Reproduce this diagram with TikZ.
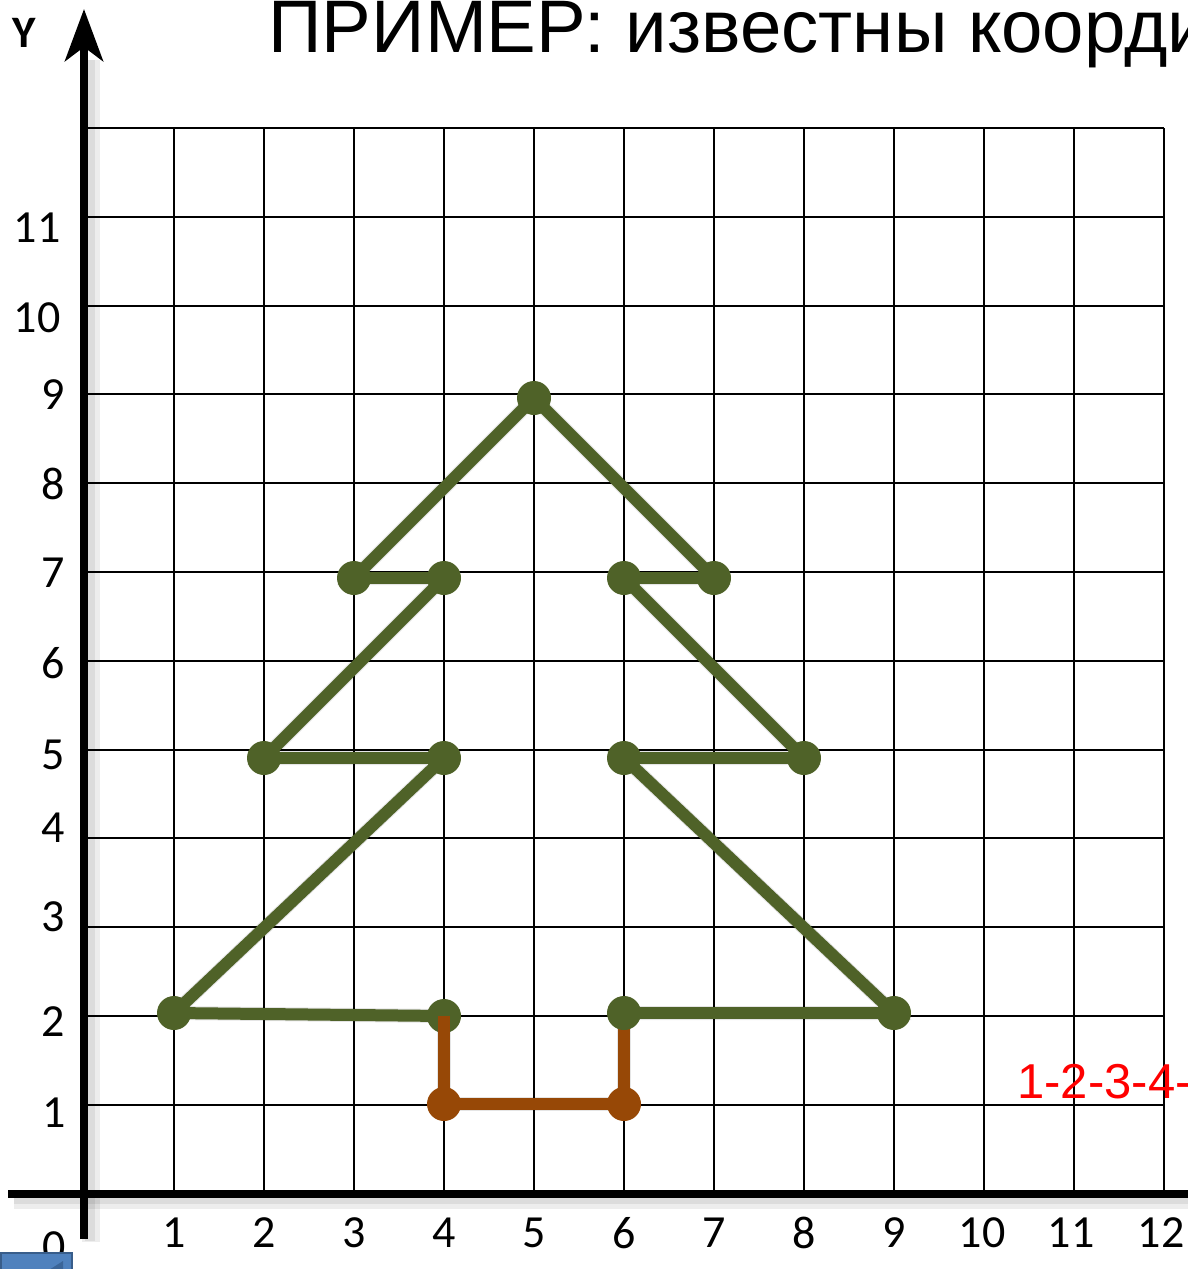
\documentclass[tikz,border=0pt]{standalone}
\usepackage{fontspec}
\setmainfont{Liberation Sans}
\newfontfamily\calfont{Carlito}
\usetikzlibrary{arrows.meta}
\definecolor{tgreen}{HTML}{4F6228}
\definecolor{tbrown}{HTML}{974806}
\definecolor{boxblue}{HTML}{4F81BD}
\definecolor{boxedge}{HTML}{385D8A}
\definecolor{boxdark}{HTML}{3B6598}
\definecolor{labred}{HTML}{FF0000}
\begin{document}
\begin{tikzpicture}[x=0.5pt,y=-0.5pt,
  gridline/.style={draw=black,line width=1.4pt},
  axisline/.style={draw=black,line width=4pt},
  axisshadow/.style={draw=black,line width=9pt,opacity=0.07},
  gline/.style={draw=tgreen,line width=6pt},
  bline/.style={draw=tbrown,line width=6pt},
  lshadow/.style={draw=black,line width=7pt,opacity=0.10},
  gdot/.style={circle,fill=tgreen,minimum size=17pt,inner sep=0pt},
  bdot/.style={circle,fill=tbrown,minimum size=17pt,inner sep=0pt},
  numlab/.style={font=\calfont\fontsize{23pt}{27pt}\selectfont,inner sep=0pt},
  titlelab/.style={font=\fontsize{37.2pt}{41pt}\selectfont,inner sep=0pt,anchor=base west},
  redlab/.style={font=\fontsize{24.5pt}{28pt}\selectfont,text=labred,inner sep=0pt,anchor=base west}
]
\useasboundingbox (0,0) rectangle (1188,1269);
\clip (0,0) rectangle (1188,1269);

% grid
\foreach \k in {1,...,12} \draw[gridline] (84+90*\k,128) -- (84+90*\k,1193);
\foreach \yy in {128,217,306,394,483,572,661,750,838,927,1016,1105}
  \draw[gridline] (84,\yy) -- (1164,\yy);

% title and red text
\node[titlelab] (title) at (268,53) {ПРИМЕР: известны коорди};
\node[redlab] (seq) at (1017,1098) {1-2-3-4-};

% axes shadows
\draw[axisshadow] (14,1200) -- (1200,1200);
\draw[axisshadow] (91,1242) -- (91,60);
\draw[axisshadow,line width=5pt] (14,1199) -- (1200,1199);
\draw[axisshadow,line width=5pt] (90,1241) -- (90,60);
% axes
\coordinate (xs) at (8,1194);
\coordinate (xe) at (1200,1194);
\coordinate (ys) at (84,1239);
\coordinate (ye) at (84,9);
\draw[axisline] (xs) -- (xe);
\draw[axisline,-{Stealth[length=26pt,width=19pt,inset=7pt]}] (ys) -- (ye);

\node[font=\calfont\bfseries\fontsize{22.5pt}{26pt}\selectfont,inner sep=0pt] (ylab) at (24.5,33) {Y};

% y labels
\node[numlab] (y11) at (37,228) {11};
\node[numlab] (y10) at (37,318) {10};
\node[numlab] (y9) at (53,395) {9};
\node[numlab] (y8) at (53,484) {8};
\node[numlab] (y7) at (53,573) {7};
\node[numlab] (y6) at (53,663) {6};
\node[numlab] (y5) at (53,755) {5};
\node[numlab] (y4) at (53,828) {4};
\node[numlab] (y3) at (53,917) {3};
\node[numlab] (y2) at (53,1022) {2};
\node[numlab] (y1) at (54,1113) {1};
% x labels
\foreach \k in {1,...,9}
  \node[numlab] (x\k) at (84+90*\k,1233) {\k};
\node[numlab] (x10) at (982,1233) {10};
\node[numlab] (x11) at (1071,1233) {11};
\node[numlab] (x12) at (1161,1233) {12};
\node[numlab] (x0) at (54,1247) {0};

% blue button
\filldraw[fill=boxblue,draw=boxedge,line width=1.2pt] (1,1253) rectangle (72,1280);
\fill[boxdark] (49,1270) -- (63,1261) -- (63,1270) -- cycle;

% tree points
\coordinate (p1) at (174,1013);
\coordinate (p2) at (444,758);
\coordinate (p3) at (264,758);
\coordinate (p4) at (444,578);
\coordinate (p5) at (354,578);
\coordinate (p6) at (534,398);
\coordinate (p7) at (714,578);
\coordinate (p8) at (624,578);
\coordinate (p9) at (804,758);
\coordinate (p10) at (624,758);
\coordinate (p11) at (894,1013);
\coordinate (p12) at (624,1013);
\coordinate (q1) at (444,1016);
\coordinate (b1) at (444,1104);
\coordinate (b2) at (624,1104);

% shadows of tree lines
\begin{scope}[shift={(3,4)}]
\draw[lshadow] (p1) -- (p2) -- (p3) -- (p4) -- (p5) -- (p6) -- (p7) -- (p8) -- (p9) -- (p10) -- (p11) -- (p12);
\draw[lshadow] (p1) -- (q1);
\draw[lshadow] (q1) -- (b1) -- (b2) -- (p12);
\end{scope}

% green tree
\draw[gline] (p1) -- (p2);
\draw[gline] (p2) -- (p3);
\draw[gline] (p3) -- (p4);
\draw[gline] (p4) -- (p5);
\draw[gline] (p5) -- (p6);
\draw[gline] (p6) -- (p7);
\draw[gline] (p7) -- (p8);
\draw[gline] (p8) -- (p9);
\draw[gline] (p9) -- (p10);
\draw[gline] (p10) -- (p11);
\draw[gline] (p11) -- (p12);
\draw[gline] (p1) -- (q1);

\foreach \p in {p1,p2,p3,p4,p5,p6,p7,p8,p9,p10,p11,q1}
  \node[gdot] (d\p) at (\p) {};

% brown trunk
\node[bdot] (db1) at (b1) {};
\node[bdot] (db2) at (b2) {};
\draw[bline] (q1) -- (b1);
\draw[bline] (b1) -- (b2);
\draw[bline] (b2) -- (p12);
\node[gdot] (dp12) at (p12) {};
\end{tikzpicture}
\end{document}
